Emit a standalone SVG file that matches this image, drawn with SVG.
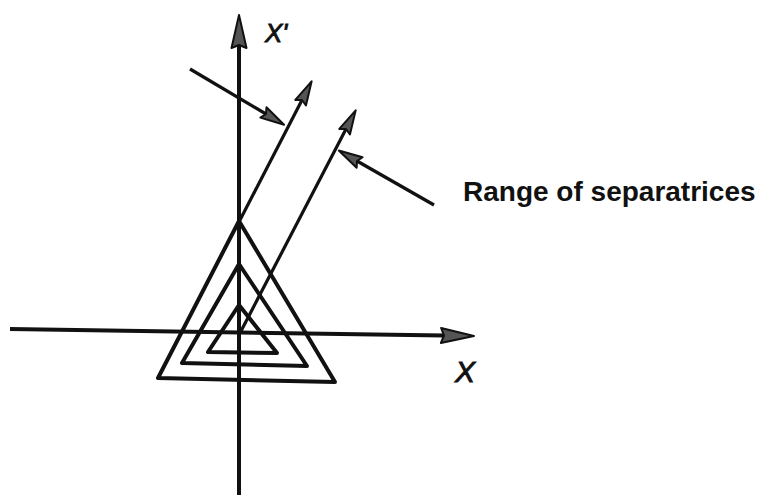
<svg xmlns="http://www.w3.org/2000/svg" width="762" height="498" viewBox="0 0 762 498">
<style>
.ax{stroke:#111;stroke-width:4;fill:none;stroke-linecap:butt}
.sep{stroke:#111;stroke-width:3.2;fill:none}
.tri{stroke:#111;stroke-width:4;fill:none;stroke-linejoin:round}
.lbl{font-family:"Liberation Sans",Arial,sans-serif;fill:#111}
.ital{font-style:italic;stroke:#111;stroke-width:0.9}
</style>
<defs>
<marker id="big" markerUnits="userSpaceOnUse" viewBox="0 -9 36 18" refX="3" refY="0" markerWidth="36" markerHeight="18" orient="auto" overflow="visible">
<path d="M0,-7.5 L33,0 L0,7.5 L3,0 Z" fill="#555" stroke="#111" stroke-width="2" stroke-linejoin="round"/>
</marker>
<marker id="small" markerUnits="userSpaceOnUse" viewBox="0 -8 28 16" refX="3" refY="0" markerWidth="28" markerHeight="16" orient="auto" overflow="visible">
<path d="M0,-6 L24,0 L0,6 L3,0 Z" fill="#555" stroke="#111" stroke-width="2" stroke-linejoin="round"/>
</marker>
</defs>
<rect width="762" height="498" fill="#fff"/>
<g id="triangles">
<polygon id="tri-outer" class="tri" points="239,221 158,378 335,382"/>
<polygon id="tri-middle" class="tri" points="239,264 182,363 307,366"/>
<polygon id="tri-inner" class="tri" points="239,305 208,352 277,353"/>
</g>
<g id="connectors">
<line id="axis-xprime" class="ax" x1="239" y1="495" x2="239" y2="45" marker-end="url(#big)"/>
<line id="axis-x" class="ax" x1="10" y1="329" x2="444" y2="335.5" marker-end="url(#big)"/>
<line id="sep1" class="sep" x1="239" y1="222" x2="302" y2="100" marker-end="url(#small)"/>
<line id="sep2" class="sep" x1="240" y1="333" x2="346" y2="129" marker-end="url(#small)"/>
<line id="ptr1" class="sep" x1="190" y1="69" x2="266" y2="114" marker-end="url(#small)"/>
<line id="ptr2" class="sep" x1="434" y1="205" x2="357" y2="161" marker-end="url(#small)"/>
</g>
<g id="labels">
<text id="lbl-xprime" class="lbl ital" x="265" y="42" font-size="26">X'</text>
<text id="lbl-x" class="lbl ital" x="455" y="382" font-size="30">X</text>
<text id="lbl-range" class="lbl" x="463" y="201" font-size="28" font-weight="bold">Range of separatrices</text>
</g>
</svg>
